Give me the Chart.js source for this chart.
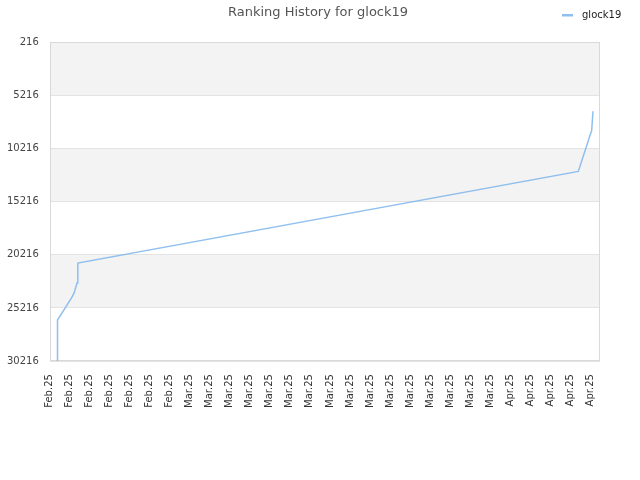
<!DOCTYPE html>
<html>
<head>
<meta charset="utf-8">
<script src="https://cdn.jsdelivr.net/npm/chart.js@4/dist/chart.umd.min.js"></script>
<style>
  html, body { margin: 0; padding: 0; background: #fff; }
  #wrap { width: 640px; height: 480px; }
</style>
</head>
<body>
<div id="wrap"><canvas id="c" width="640" height="480"></canvas></div>
<script>
// Tick labels along the x axis (one every two days)
const xTickLabels = [
  'Feb.25','Feb.25','Feb.25','Feb.25','Feb.25','Feb.25','Feb.25',
  'Mar.25','Mar.25','Mar.25','Mar.25','Mar.25','Mar.25','Mar.25','Mar.25',
  'Mar.25','Mar.25','Mar.25','Mar.25','Mar.25','Mar.25','Mar.25','Mar.25',
  'Apr.25','Apr.25','Apr.25','Apr.25','Apr.25'
];
// Series: position in days from the first tick, and the rank at that time
const seriesDays  = [0.77, 0.77, 2.17, 2.43, 2.73, 2.8, 52.83, 54.17, 54.3];
const seriesRanks = [30216, 26348, 24273, 23801, 22858, 21000, 12386, 8518, 6725];
const seriesName = 'glock19';
const titleText = 'Ranking History for glock19';
const yMin = 216, yMax = 30216, yStep = 5000;
const xMin = 0, xMax = 55, xStep = 2;

const lineColor = 'rgba(124,181,236,0.85)';
const FONT = "'DejaVu Sans', 'Liberation Sans', sans-serif";

const bandsPlugin = {
  id: 'bands',
  beforeDraw(chart) {
    const { ctx, chartArea: a, scales: { y } } = chart;
    ctx.save();
    let i = 0;
    for (let v = yMin; v < yMax; v += yStep, i++) {
      if (i % 2 === 0) {
        const p1 = y.getPixelForValue(v), p2 = y.getPixelForValue(v + yStep);
        ctx.fillStyle = '#f3f3f3';
        ctx.fillRect(a.left, Math.min(p1, p2), a.right - a.left, Math.abs(p2 - p1));
      }
    }
    ctx.restore();
  },
  beforeDatasetsDraw(chart) {
    const { ctx, chartArea: a } = chart;
    ctx.save();
    ctx.strokeStyle = '#d9d9d9';
    ctx.lineWidth = 1;
    ctx.strokeRect(Math.round(a.left) + 0.5, Math.round(a.top) + 0.5,
      Math.round(a.right - a.left) - 1, Math.round(a.bottom - a.top) - 1);
    ctx.restore();
  }
};

const legendPlugin = {
  id: 'sideLegend',
  afterDraw(chart) {
    const { ctx } = chart;
    const ds = chart.data.datasets[0];
    const x0 = chart.width - 78, yc = 15;
    ctx.save();
    ctx.fillStyle = ds.borderColor;
    ctx.fillRect(x0, yc - 1, 11, 2.5);
    ctx.fillStyle = '#222';
    ctx.font = '10px ' + FONT;
    ctx.textBaseline = 'middle';
    ctx.textAlign = 'left';
    ctx.fillText(ds.label, x0 + 20, yc);
    ctx.restore();
  }
};

new Chart(document.getElementById('c'), {
  type: 'line',
  data: {
    datasets: [{
      label: seriesName,
      data: seriesDays.map((d, i) => ({ x: d, y: seriesRanks[i] })),
      borderColor: lineColor,
      backgroundColor: lineColor,
      borderWidth: 1.5,
      pointRadius: 0,
      pointHoverRadius: 0,
      tension: 0,
      fill: false
    }]
  },
  options: {
    responsive: false,
    animation: false,
    layout: { padding: { left: -4, right: 0, top: 0, bottom: 67 } },
    plugins: {
      legend: { display: false },
      tooltip: { enabled: false },
      title: {
        display: true,
        text: titleText,
        color: '#555',
        font: { family: FONT, size: 13, weight: 'normal' },
        padding: { top: 5, bottom: 21.4 }
      }
    },
    scales: {
      x: {
        type: 'linear',
        min: xMin, max: xMax,
        grid: { display: false },
        border: { display: false },
        ticks: {
          stepSize: xStep,
          includeBounds: false,
          autoSkip: false,
          minRotation: 90, maxRotation: 90,
          padding: 5,
          color: '#333',
          font: { family: FONT, size: 10 },
          callback: (v) => xTickLabels[Math.round((v - xMin) / xStep)] ?? ''
        }
      },
      y: {
        reverse: true,
        min: yMin, max: yMax,
        grid: { color: '#e3e3e3', drawTicks: false },
        border: { display: false },
        ticks: {
          stepSize: yStep,
          padding: 11,
          color: '#444',
          font: { family: FONT, size: 10 },
          callback: (v) => String(v)
        }
      },
      yRight: {
        position: 'right',
        min: yMin, max: yMax,
        grid: { display: false },
        border: { display: false },
        ticks: { display: false },
        afterFit: (s) => { s.width = 40; }
      }
    }
  },
  plugins: [bandsPlugin, legendPlugin]
});
</script>
</body>
</html>
